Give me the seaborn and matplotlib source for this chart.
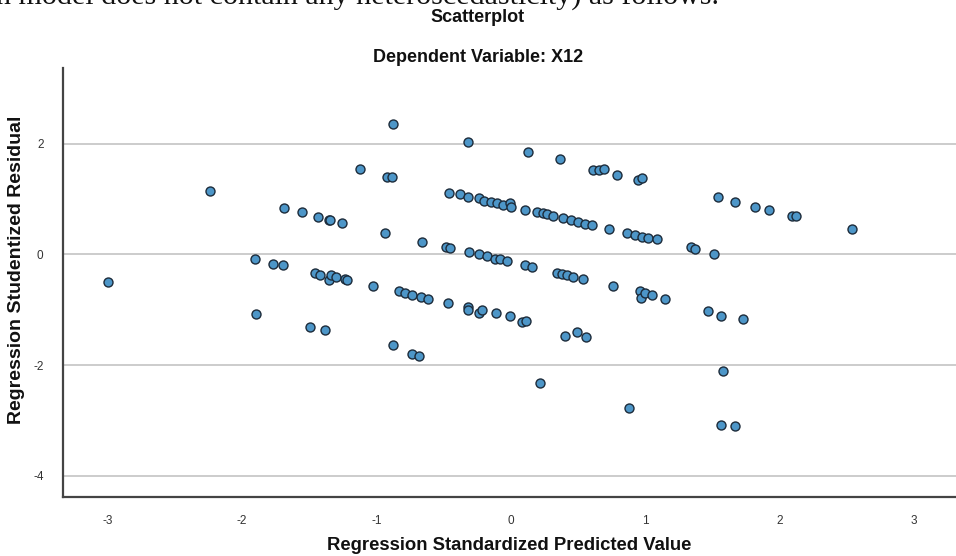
import matplotlib
matplotlib.use("Agg")
import matplotlib.pyplot as plt
import seaborn as sns
import pandas as pd

# Regression standardized predicted value (x) and studentized residual (y)
pred_value = [
    -3.00, -2.24, -1.905, -1.897, -1.768, -1.699, -1.687, -1.553, -1.493, -1.456,
    -1.434, -1.419, -1.386, -1.356, -1.352, -1.345, -1.341, -1.304, -1.255, -1.235,
    -1.218, -1.121, -1.025, -0.938, -0.925, -0.888, -0.876, -0.876, -0.831, -0.789,
    -0.739, -0.739, -0.682, -0.672, -0.665, -0.615, -0.484, -0.471, -0.459, -0.454,
    -0.379, -0.322, -0.322, -0.322, -0.318, -0.312, -0.238, -0.238, -0.238, -0.218,
    -0.199, -0.181, -0.149, -0.119, -0.112, -0.102, -0.082, -0.057, -0.032, -0.007,
    0.000, -0.005, 0.080, 0.104, 0.104, 0.112, 0.124, 0.154, 0.190, 0.216,
    0.240, 0.270, 0.315, 0.345, 0.365, 0.382, 0.385, 0.402, 0.414, 0.444,
    0.464, 0.493, 0.496, 0.533, 0.550, 0.556, 0.600, 0.612, 0.655, 0.694,
    0.731, 0.761, 0.789, 0.860, 0.878, 0.923, 0.943, 0.960, 0.965, 0.972,
    0.972, 0.997, 1.021, 1.051, 1.088, 1.146, 1.337, 1.369, 1.463, 1.512,
    1.542, 1.560, 1.560, 1.580, 1.667, 1.667, 1.724, 1.815, 1.917, 2.088,
    2.118, 2.540,
]
stud_resid = [
    -0.49, 1.15, -0.08, -1.08, -0.18, -0.195, 0.84, 0.76, -1.31, -0.34,
    0.67, -0.38, -1.36, -0.47, 0.62, 0.63, -0.38, -0.41, 0.575, -0.45,
    -0.47, 1.55, -0.57, 0.385, 1.40, 1.40, 2.35, -1.64, -0.67, -0.70,
    -0.74, -1.80, -1.84, -0.77, 0.23, -0.80, 0.14, -0.87, 1.11, 0.12,
    1.09, 2.03, 1.03, -0.955, -1.00, 0.04, 1.02, 0.00, -1.05, -1.01,
    0.97, -0.03, 0.95, -0.08, -1.06, 0.93, -0.09, 0.90, -0.12, 0.93,
    0.85, -1.12, -1.23, 0.80, -0.20, -1.21, 1.85, -0.23, 0.77, -2.32,
    0.745, 0.73, 0.70, -0.33, 1.72, -0.35, 0.655, -1.47, -0.37, 0.62,
    -0.41, -1.41, 0.59, -0.45, 0.55, -1.50, 0.53, 1.52, 1.53, 1.55,
    0.46, -0.57, 1.44, 0.39, -2.78, 0.35, 1.35, -0.67, -0.78, 0.32,
    1.38, -0.70, 0.29, -0.73, 0.27, -0.80, 0.13, 0.10, -1.03, 0.01,
    1.04, -1.11, -3.08, -2.10, 0.94, -3.10, -1.17, 0.86, 0.80, 0.70,
    0.69, 0.46,
]
x_ticks = [-3, -2, -1, 0, 1, 2, 3]
y_ticks = [-4, -2, 0, 2]

df = pd.DataFrame({"pred": pred_value, "resid": stud_resid})

sns.set_theme(style="white")
plt.rcParams["font.family"] = ["Liberation Sans", "DejaVu Sans"]
plt.rcParams["axes.unicode_minus"] = False

fig = plt.figure(figsize=(9.56, 5.56), dpi=100)
ax = fig.add_axes([63 / 956, 1 - 497 / 556, 1 - 63 / 956, (497 - 68) / 556])

for yv in y_ticks:
    ax.axhline(yv, color="#c8c8c8", lw=1.3, zorder=0)

sns.scatterplot(data=df, x="pred", y="resid", ax=ax, s=42,
                color="#4d96c8", edgecolor="#1c2b3a", linewidth=1.0, zorder=3)

ax.set_xlim(-3.333, 3.311)
ax.set_ylim(-4.385, 3.37)
ax.set_xticks(x_ticks)
ax.set_yticks(y_ticks)
ax.set_xticklabels([str(v) for v in x_ticks])
ax.set_yticklabels([str(v) for v in y_ticks])
ax.tick_params(axis="both", length=0, labelsize=8.5, labelcolor="#333333")
ax.tick_params(axis="x", pad=13)
ax.tick_params(axis="y", pad=14)

for side in ["top", "right"]:
    ax.spines[side].set_visible(False)
for side in ["left", "bottom"]:
    ax.spines[side].set_color("#444444")
    ax.spines[side].set_linewidth(1.6)

ax.set_xlabel("Regression Standardized Predicted Value", fontsize=13.3,
              fontweight="bold", color="#111111", va="center")
ax.xaxis.set_label_coords(0.5, -(545 - 497) / 429)
ax.set_ylabel("Regression Studentized Residual", fontsize=14,
              fontweight="bold", color="#111111")
ax.yaxis.set_label_coords(-(63 - 25) / 893, (497 - 270) / 429)

fig.text(0.5, 1 - 17 / 556, "Scatterplot", ha="center", va="center",
         fontsize=13, fontweight="bold", color="#111111")
fig.text(0.5, 1 - 57 / 556, "Dependent Variable: X12", ha="center", va="center",
         fontsize=13, fontweight="bold", color="#111111")
fig.text(-4 / 956, 1 - 5 / 556,
         "n model does not contain any heteroscedasticity) as follows.",
         ha="left", va="baseline", fontsize=21.6, family="Liberation Serif",
         color="#111111")

fig.savefig("out.png", dpi=100)
